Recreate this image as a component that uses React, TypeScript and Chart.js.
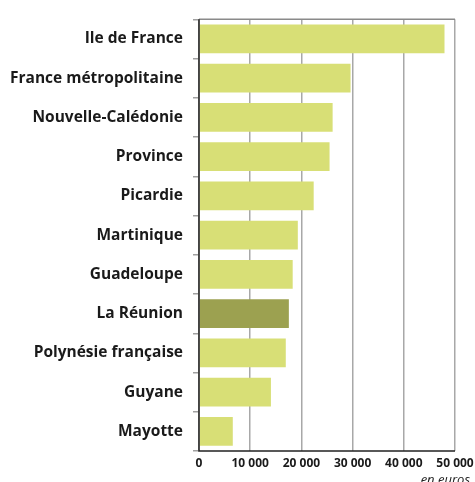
import React, { useEffect, useRef } from "react";
import { Chart, registerables } from "chart.js";

Chart.register(...registerables);

const categories = [
  "Ile de France",
  "France métropolitaine",
  "Nouvelle-Calédonie",
  "Province",
  "Picardie",
  "Martinique",
  "Guadeloupe",
  "La Réunion",
  "Polynésie française",
  "Guyane",
  "Mayotte",
];
const values = [47950, 29600, 26100, 25500, 22400, 19300, 18300, 17550, 16950, 14050, 6600];
const highlighted = "La Réunion";
const xTicks = [0, 10000, 20000, 30000, 40000, 50000];
const unitLabel = "en euros";

const LIGHT = "#d8df76";
const DARK = "#9ca150";

export default function App() {
  const ref = useRef<HTMLCanvasElement | null>(null);

  useEffect(() => {
    if (!ref.current) return;
    const font = "'Open Sans', 'Noto Sans', sans-serif";
    const extras = {
      id: "extras",
      afterDatasetsDraw(chart: any) {
        const { ctx, chartArea } = chart;
        ctx.save();
        ctx.strokeStyle = "#8a8a8a";
        ctx.lineWidth = 1.5;
        ctx.beginPath();
        ctx.moveTo(chartArea.left, chartArea.top);
        ctx.lineTo(chartArea.right, chartArea.top);
        ctx.stroke();
        ctx.strokeStyle = "#222";
        ctx.lineWidth = 1.5;
        ctx.beginPath();
        ctx.moveTo(chartArea.left, chartArea.top);
        ctx.lineTo(chartArea.left, chartArea.bottom);
        ctx.lineTo(chartArea.right, chartArea.bottom);
        ctx.stroke();
        ctx.fillStyle = "#222";
        ctx.font = `italic 13px ${font}`;
        ctx.textAlign = "right";
        ctx.textBaseline = "alphabetic";
        ctx.fillText(unitLabel, 470, 484);
        ctx.restore();
      },
    };
    const chart = new Chart(ref.current, {
      type: "bar",
      data: {
        labels: categories,
        datasets: [
          {
            data: values,
            backgroundColor: categories.map((c) => (c === highlighted ? DARK : LIGHT)),
            categoryPercentage: 0.73,
            barPercentage: 1,
            borderWidth: 0,
          },
        ],
      },
      options: {
        indexAxis: "y",
        animation: false,
        responsive: false,
        devicePixelRatio: 1,
        layout: { padding: { top: 15, right: 0, bottom: 0, left: 0 } },
        plugins: { legend: { display: false }, tooltip: { enabled: false } },
        scales: {
          x: {
            min: 0,
            max: 50000,
            afterBuildTicks: (scale: any) => {
              scale.ticks = xTicks.map((v) => ({ value: v }));
            },
            afterFit: (scale: any) => {
              scale.height = 31;
              scale.paddingRight = 20;
            },
            grid: {
              color: "#a8a8a8",
              lineWidth: 1.5,
              drawTicks: false,
            },
            border: { display: false },
            ticks: {
              padding: 5,
              color: "#1a1a1a",
              font: { family: font, size: 12, weight: "bold" },
              callback: (v: any) =>
                Number(v) === 0 ? "0" : Number(v).toLocaleString("fr-FR").replace(/\s/g, " "),
              maxRotation: 0,
              autoSkip: false,
            },
          },
          y: {
            afterFit: (scale: any) => {
              scale.width = 199;
            },
            grid: {
              offset: true,
              drawOnChartArea: false,
              drawTicks: true,
              tickLength: 6,
              color: "#a0a0a0",
              lineWidth: 1.5,
            },
            border: { display: false },
            ticks: {
              padding: 10,
              color: "#1a1a1a",
              font: { family: font, size: 15.5, weight: "bold" },
            },
          },
        },
      },
      plugins: [extras],
    } as any);
    return () => chart.destroy();
  }, []);

  return (
    <div style={{ position: "fixed", left: 0, top: 0, width: 475, height: 482, background: "#fff" }}>
      <canvas ref={ref} width={475} height={482} style={{ display: "block" }} />
    </div>
  );
}
